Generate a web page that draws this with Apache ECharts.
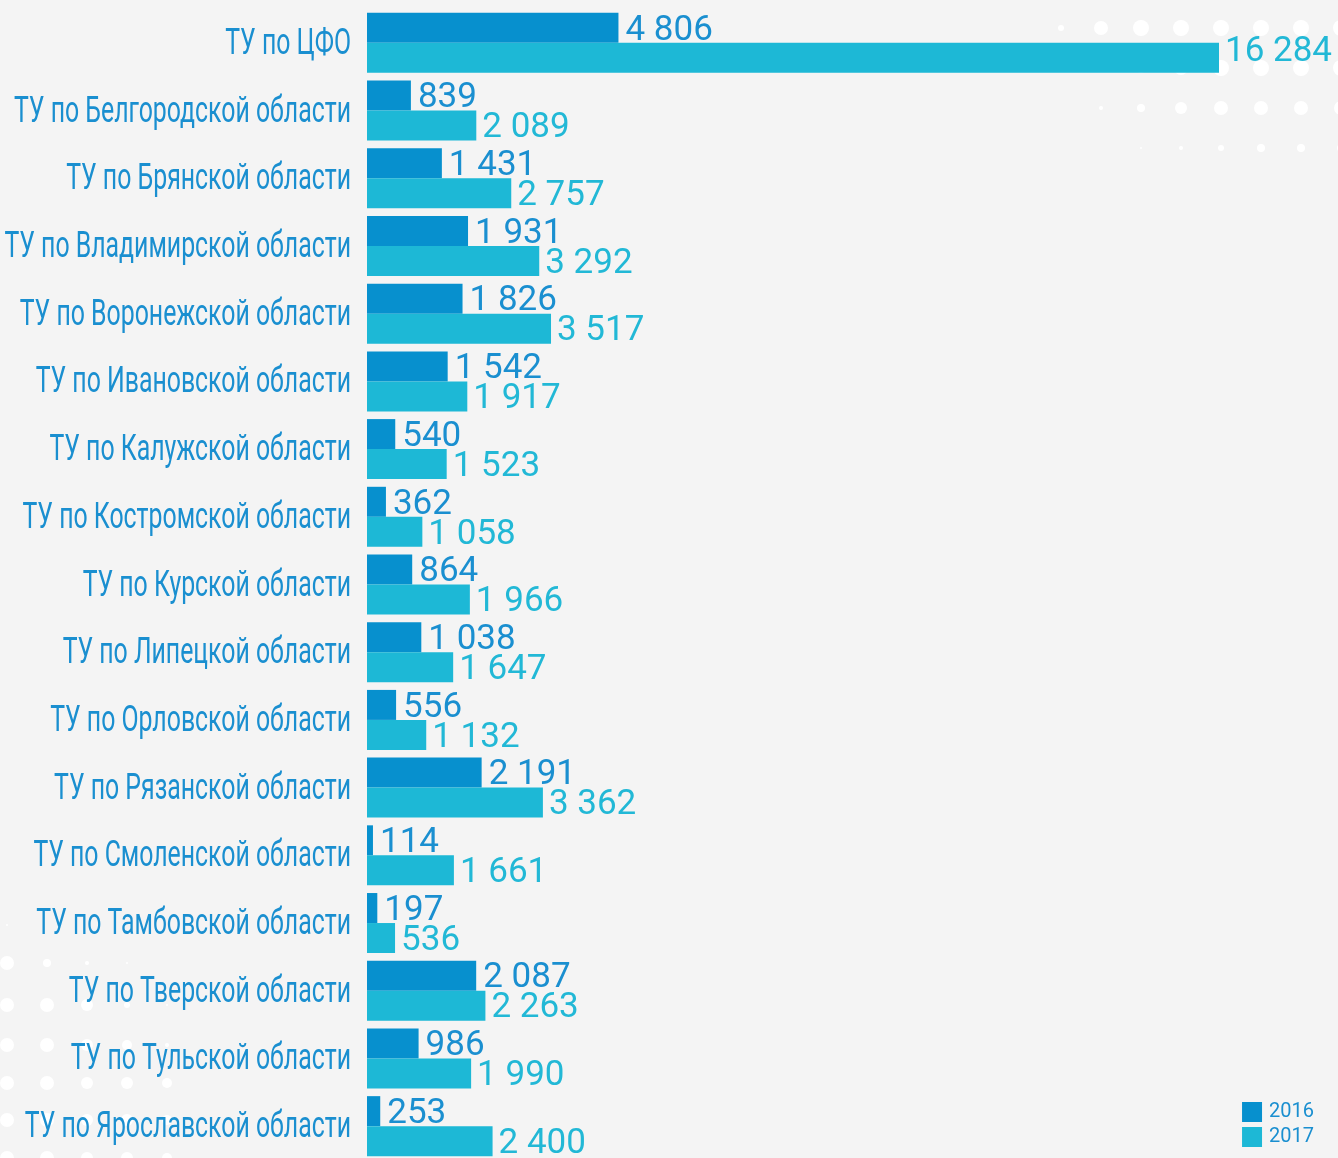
<!DOCTYPE html>
<html>
<head>
<meta charset="utf-8">
<script src="https://cdn.jsdelivr.net/npm/echarts@6/dist/echarts.min.js"></script>
<style>
  html, body { margin: 0; padding: 0; background: #f4f4f4; }
  #chart { width: 1338px; height: 1158px; }
</style>
</head>
<body>
<div id="chart"></div>
<script>
const categories = [
  'ТУ по ЦФО',
  'ТУ по Белгородской области',
  'ТУ по Брянской области',
  'ТУ по Владимирской области',
  'ТУ по Воронежской области',
  'ТУ по Ивановской области',
  'ТУ по Калужской области',
  'ТУ по Костромской области',
  'ТУ по Курской области',
  'ТУ по Липецкой области',
  'ТУ по Орловской области',
  'ТУ по Рязанской области',
  'ТУ по Смоленской области',
  'ТУ по Тамбовской области',
  'ТУ по Тверской области',
  'ТУ по Тульской области',
  'ТУ по Ярославской области'
]
const values2016 = [4806, 839, 1431, 1931, 1826, 1542, 540, 362, 864, 1038, 556, 2191, 114, 197, 2087, 986, 253]
const values2017 = [16284, 2089, 2757, 3292, 3517, 1917, 1523, 1058, 1966, 1647, 1132, 3362, 1661, 536, 2263, 1990, 2400]
const seriesNames = ['2016', '2017']

const fmt = v => v >= 1000 ? Math.floor(v / 1000) + ' ' + String(v % 1000).padStart(3, '0') : String(v)

// decorative dots (background only)
const dots = []
const addDots = rows => {
  rows.forEach(([x0, y, rs]) => {
    rs.forEach((r, i) => {
      if (r > 0) dots.push({ type: 'circle', shape: { cx: x0 + i * 40, cy: y, r: r }, style: { fill: '#ffffff' }, silent: true, z: -1 })
    })
  })
}
addDots([
  [1061, 28, [3, 7, 8, 8, 8, 8, 8, 8]],
  [1061, 68, [0, 2, 5, 7, 8, 8, 8, 8]],
  [1061, 108, [0, 2, 4, 6, 7, 7, 7, 7]],
  [1061, 148, [0, 0, 1, 2, 3, 4, 4, 4]]
])
addDots([
  [7, 925, [1, 0, 0, 0, 0]],
  [7, 963, [7, 4, 2, 1, 0]],
  [7, 1005, [7, 7, 6, 3, 1]],
  [7, 1045, [7, 7, 6, 5, 2]],
  [7, 1083, [7, 7, 6, 6, 5]],
  [7, 1120, [7, 7, 6, 6, 5]],
  [7, 1158, [7, 7, 6, 6, 5]]
])

const chart = echarts.init(document.getElementById('chart'))
chart.setOption({
  animation: false,
  backgroundColor: '#f4f4f4',
  legend: {
    orient: 'vertical',
    right: 19,
    bottom: 6,
    itemWidth: 20,
    itemHeight: 20,
    itemGap: 5,
    icon: 'rect',
    textStyle: { color: '#1a8fd0', fontSize: 20, fontFamily: 'Roboto', padding: [0, 0, 0, 2] },
    data: seriesNames
  },
  grid: {
    left: 367,
    right: 119,
    top: 9,
    height: 1151,
    outerBoundsMode: 'none',
    containLabel: false
  },
  xAxis: {
    type: 'value',
    min: 0,
    max: 'dataMax',
    show: false
  },
  yAxis: {
    type: 'category',
    inverse: true,
    data: categories,
    axisLine: { show: false },
    axisTick: { show: false },
    axisLabel: { show: false }
  },
  series: [
    {
      name: seriesNames[0],
      type: 'bar',
      barWidth: 30,
      barGap: '0%',
      itemStyle: { color: '#0790ce' },
      label: {
        show: true,
        position: 'right',
        distance: 7,
        offset: [0, 3],
        color: '#1a8fd0',
        fontSize: 35,
        fontFamily: 'Roboto',
        formatter: p => fmt(p.value)
      },
      data: values2016
    },
    {
      name: seriesNames[1],
      type: 'bar',
      barWidth: 30,
      itemStyle: { color: '#1db8d6' },
      label: {
        show: true,
        position: 'right',
        distance: 6,
        offset: [0, 3],
        color: '#22b8d6',
        fontSize: 35,
        fontFamily: 'Roboto',
        formatter: p => fmt(p.value)
      },
      data: values2017.map((v, i) => i === 0 ? { value: v, label: { offset: [0, -6] } } : v)
    }
  ]
})

// category names in a condensed look: placed from the axis scale, squeezed horizontally
const labelRight = chart.convertToPixel({ gridIndex: 0 }, [0, 0])[0] - 16
const catLabels = categories.map((c, i) => ({
  type: 'text',
  x: labelRight,
  y: chart.convertToPixel({ yAxisIndex: 0 }, i) + 2,
  scaleX: 0.69,
  silent: true,
  style: {
    text: c,
    fill: '#1a8fd0',
    font: '36px Roboto',
    textAlign: 'right',
    textVerticalAlign: 'middle'
  }
}))

chart.setOption({ graphic: dots.concat(catLabels) })
</script>
</body>
</html>
